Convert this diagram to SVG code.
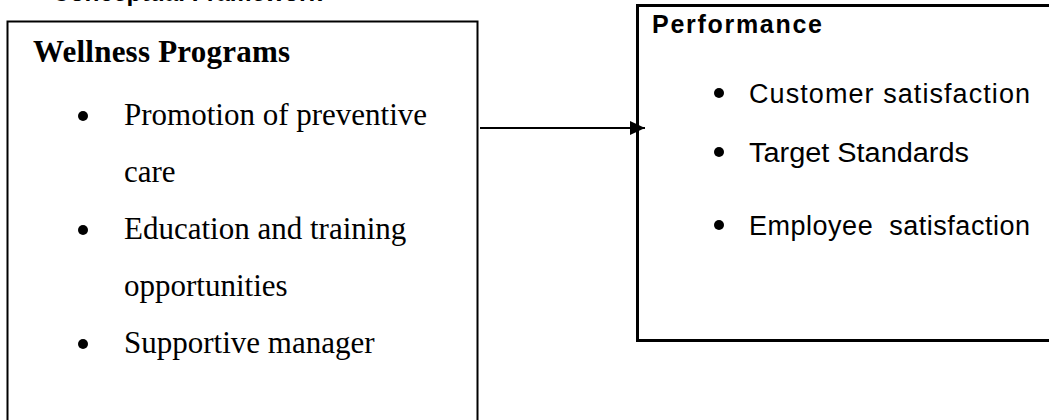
<svg xmlns="http://www.w3.org/2000/svg" width="1049" height="420" viewBox="0 0 1049 420">
<style>
.serif{font-family:"Liberation Serif","Times New Roman",serif;font-size:31px;fill:#000}
.serifb{font-family:"Liberation Serif","Times New Roman",serif;font-size:31px;font-weight:bold;fill:#000}
.sans{font-family:"Liberation Sans",Arial,sans-serif;font-size:27px;fill:#000;white-space:pre}
.sansb{font-family:"Liberation Sans",Arial,sans-serif;font-size:25px;font-weight:bold;fill:#000}
.box{fill:#fff;stroke:#000}
</style>
<defs>
<marker id="ah" markerWidth="8" markerHeight="8" refX="7.5" refY="4" orient="auto" markerUnits="strokeWidth">
<path d="M0,0.5 L7.5,4 L0,7.5 Z" fill="#000"/>
</marker>
</defs>
<rect width="1049" height="420" fill="#fff"/>
<text class="sansb" x="52" y="1" textLength="270" lengthAdjust="spacingAndGlyphs" style="font-size:26px">Conceptual Framework</text>
<g id="wellness">
<rect class="box" x="7.5" y="21.5" width="470" height="420" stroke-width="2"/>
<text class="serifb" x="33" y="62" textLength="257">Wellness Programs</text>
<circle cx="83" cy="116" r="5"/>
<text class="serif" x="124" y="125">Promotion of preventive</text>
<text class="serif" x="124" y="182">care</text>
<circle cx="83" cy="230" r="5"/>
<text class="serif" x="124" y="239">Education and training</text>
<text class="serif" x="124" y="296">opportunities</text>
<circle cx="83" cy="344" r="5"/>
<text class="serif" x="124" y="353">Supportive manager</text>
</g>
<g id="performance">
<rect class="box" x="637.5" y="5.5" width="430" height="335" stroke-width="3"/>
<text class="sansb" x="652" y="33" textLength="170">Performance</text>
<circle cx="719" cy="93" r="5"/>
<text class="sans" x="749" y="103" textLength="281">Customer satisfaction</text>
<circle cx="719" cy="152" r="5"/>
<text class="sans" x="749" y="162" textLength="220" lengthAdjust="spacingAndGlyphs">Target Standards</text>
<circle cx="719" cy="225" r="5"/>
<text class="sans" x="749" y="235" textLength="281">Employee  satisfaction</text>
</g>
<g id="connectors">
<line x1="480" y1="128" x2="645" y2="128" stroke="#000" stroke-width="2" marker-end="url(#ah)"/>
</g>
</svg>
